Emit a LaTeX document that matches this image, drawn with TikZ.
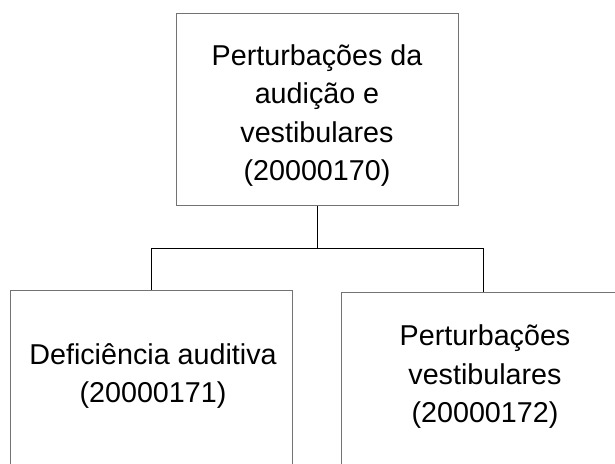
\documentclass[tikz,border=0pt]{standalone}
\usepackage{fontspec}
\setmainfont{Liberation Sans}
\begin{document}
\begin{tikzpicture}[x=1pt,y=1pt,
  box/.style={draw=black!55, line width=1pt, rectangle, inner sep=0pt},
  lbl/.style={align=center, font=\fontsize{28.7}{38.5}\selectfont, inner sep=0pt},
  conn/.style={draw=black, line width=1pt}]
\useasboundingbox (0,0) rectangle (615,-463);
\clip (0,0) rectangle (615,-463);
\node[box, minimum width=282, minimum height=192.5] (top) at (317,-109.25) {};
\node[box, minimum width=282.5, minimum height=185] (left) at (151.25,-383.1) {};
\node[box, minimum width=284, minimum height=184] (right) at (483,-384) {};
\node[lbl] (ttop) at (317,-115.5) {Perturbações da\\audição e\\vestibulares\\(20000170)};
\node[lbl] (tleft) at (153,-376) {Deficiência auditiva\\(20000171)};
\node[lbl] (tright) at (485,-377) {Perturbações\\vestibulares\\(20000172)};
\coordinate (j) at (317,-248);
\draw[conn] (top.south) -- (j);
\draw[conn] (j) -| (left.north);
\draw[conn] (j) -| (right.north);
\end{tikzpicture}
\end{document}
